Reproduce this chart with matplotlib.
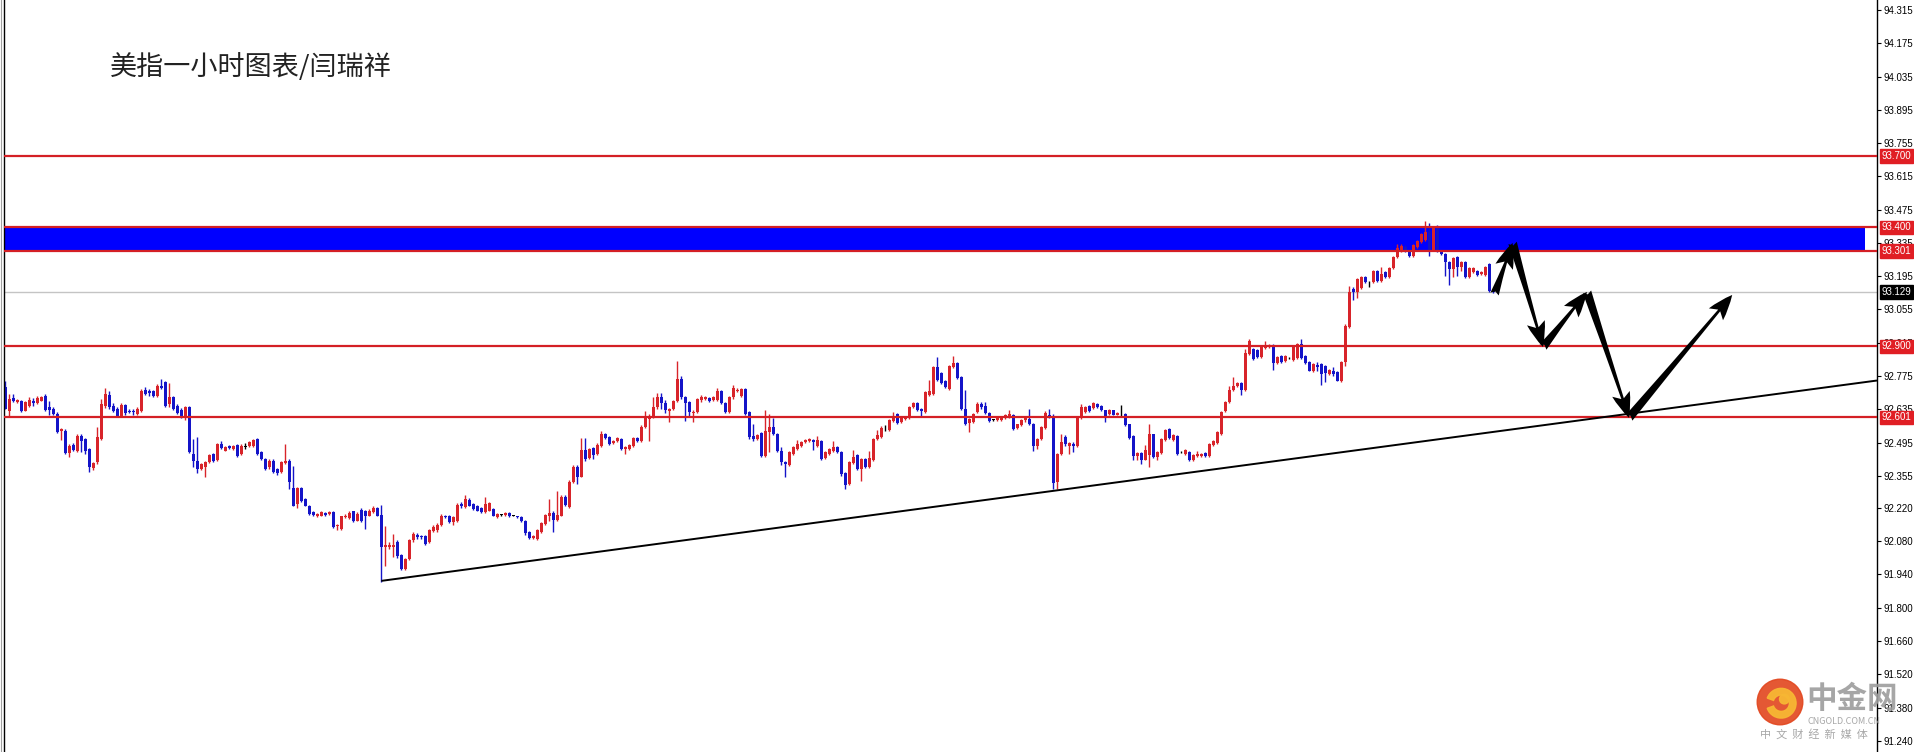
import numpy as np
import matplotlib
matplotlib.use("Agg")
import matplotlib.pyplot as plt
from matplotlib.patches import FancyArrowPatch, Circle, Wedge

plt.rcParams['font.family'] = ['Noto Sans CJK SC', 'DejaVu Sans']

# hourly candles, oldest first
opens = [
    92.727, 92.629, 92.682, 92.664, 92.671, 92.629, 92.650, 92.671, 92.660, 92.671,
    92.692, 92.643, 92.636, 92.615, 92.545, 92.545, 92.450, 92.486, 92.461, 92.524,
    92.510, 92.468, 92.388, 92.412, 92.510, 92.650, 92.696, 92.650, 92.636, 92.608,
    92.653, 92.629, 92.626, 92.615, 92.626, 92.716, 92.710, 92.710, 92.692, 92.734,
    92.748, 92.657, 92.685, 92.650, 92.632, 92.601, 92.646, 92.447, 92.419, 92.384,
    92.394, 92.412, 92.447, 92.422, 92.489, 92.461, 92.482, 92.468, 92.486, 92.447,
    92.478, 92.482,
    92.482, 92.510, 92.454, 92.426, 92.391, 92.419, 92.384, 92.370,
    92.408, 92.419, 92.304, 92.237, 92.304, 92.257, 92.230, 92.202, 92.188, 92.188,
    92.198, 92.195, 92.201, 92.142, 92.132, 92.181, 92.178, 92.205, 92.167, 92.212,
    92.206, 92.188, 92.202, 92.220, 92.192, 92.055, 92.055, 92.055, 92.076, 92.020,
    91.964, 92.006, 92.083, 92.108, 92.100, 92.100, 92.076, 92.122, 92.125, 92.146,
    92.188, 92.188, 92.160, 92.167, 92.237, 92.223, 92.254, 92.237, 92.230, 92.220,
    92.202, 92.209, 92.216, 92.181,
    92.192, 92.192, 92.199, 92.188, 92.185, 92.181,
    92.167, 92.118, 92.094, 92.090, 92.118, 92.153, 92.185, 92.199, 92.170, 92.188,
    92.268, 92.223, 92.328, 92.394, 92.352, 92.464, 92.430, 92.472, 92.447, 92.482,
    92.531, 92.517, 92.492, 92.500, 92.510, 92.468, 92.468, 92.482, 92.514, 92.503,
    92.559, 92.594, 92.601, 92.643, 92.688, 92.661, 92.629, 92.636, 92.668, 92.762,
    92.685, 92.664, 92.619, 92.622, 92.674, 92.678, 92.682, 92.674, 92.674, 92.713,
    92.661, 92.625, 92.685, 92.710, 92.692, 92.720, 92.622,
    92.524, 92.510, 92.534,
    92.440, 92.538, 92.562, 92.531, 92.461, 92.412, 92.402, 92.447, 92.468, 92.482,
    92.496, 92.500, 92.506, 92.482, 92.503, 92.430, 92.447, 92.461, 92.475, 92.454,
    92.366, 92.321, 92.408, 92.444, 92.384, 92.426, 92.391, 92.422, 92.510, 92.517,
    92.556, 92.548, 92.587, 92.615, 92.580, 92.594, 92.598, 92.643, 92.660, 92.636,
    92.622, 92.696, 92.699, 92.811, 92.786, 92.755, 92.720, 92.811, 92.828, 92.769,
    92.636, 92.576, 92.580, 92.622, 92.657, 92.650, 92.618, 92.591, 92.591,
    92.591,
    92.599, 92.602, 92.613, 92.557, 92.567, 92.588, 92.595, 92.574, 92.479, 92.511,
    92.557, 92.613, 92.602, 92.329, 92.448, 92.518, 92.479, 92.490, 92.479, 92.599,
    92.623, 92.647, 92.641, 92.658, 92.647, 92.630, 92.616, 92.630, 92.613, 92.619,
    92.616, 92.571, 92.521, 92.437, 92.451, 92.423, 92.441, 92.529, 92.434, 92.451,
    92.507, 92.553, 92.507, 92.521, 92.455, 92.448, 92.455, 92.423, 92.437, 92.437,
    92.451, 92.437, 92.483, 92.493, 92.532, 92.627, 92.665, 92.714, 92.731, 92.745,
    92.717, 92.868,
    92.889, 92.885, 92.854, 92.893, 92.896, 92.907, 92.829, 92.858,
    92.837, 92.850, 92.843, 92.851, 92.910, 92.861, 92.833, 92.795, 92.823, 92.826,
    92.819, 92.784, 92.794, 92.791, 92.753, 92.833, 92.980, 93.141, 93.127, 93.145,
    93.190, 93.169, 93.169, 93.218, 93.176, 93.211, 93.193, 93.229, 93.274, 93.299,
    93.319, 93.299, 93.281, 93.319, 93.337, 93.347, 93.383, 93.305, 93.403, 93.302,
    93.288, 93.253, 93.225, 93.274, 93.235, 93.253, 93.190, 93.211, 93.215, 93.204,
    93.201, 93.246, 93.134,
]
highs = [
    92.755, 92.699, 92.699, 92.680, 92.676, 92.668, 92.685, 92.682, 92.690, 92.692,
    92.699, 92.668, 92.643, 92.622, 92.556, 92.552, 92.489, 92.492, 92.530, 92.530,
    92.515, 92.472, 92.412, 92.562, 92.678, 92.724, 92.710, 92.660, 92.646, 92.660,
    92.657, 92.636, 92.636, 92.643, 92.720, 92.727, 92.720, 92.716, 92.741, 92.762,
    92.755, 92.744, 92.692, 92.657, 92.640, 92.650, 92.650, 92.510, 92.517, 92.410,
    92.416, 92.448, 92.452, 92.494, 92.500, 92.482, 92.486, 92.486, 92.490, 92.489,
    92.492, 92.503,
    92.512, 92.515, 92.458, 92.430, 92.424, 92.426, 92.388, 92.416,
    92.489, 92.424, 92.398, 92.310, 92.310, 92.262, 92.234, 92.206, 92.199, 92.206,
    92.202, 92.205, 92.205, 92.153, 92.188, 92.195, 92.205, 92.209, 92.202, 92.220,
    92.212, 92.214, 92.227, 92.224, 92.234, 92.142, 92.076, 92.111, 92.083, 92.024,
    92.010, 92.090, 92.118, 92.114, 92.108, 92.104, 92.130, 92.146, 92.156, 92.195,
    92.192, 92.192, 92.185, 92.240, 92.244, 92.276, 92.262, 92.241, 92.234, 92.224,
    92.265, 92.246, 92.220, 92.199,
    92.196, 92.203, 92.203, 92.192, 92.188, 92.185,
    92.170, 92.122, 92.104, 92.130, 92.162, 92.196, 92.258, 92.205, 92.293, 92.275,
    92.275, 92.338, 92.400, 92.400, 92.514, 92.514, 92.474, 92.478, 92.492, 92.545,
    92.536, 92.521, 92.507, 92.518, 92.514, 92.482, 92.490, 92.518, 92.518, 92.568,
    92.629, 92.615, 92.685, 92.702, 92.702, 92.674, 92.640, 92.676, 92.839, 92.776,
    92.690, 92.668, 92.630, 92.683, 92.696, 92.692, 92.686, 92.690, 92.724, 92.718,
    92.665, 92.690, 92.738, 92.724, 92.725, 92.724, 92.626,
    92.573, 92.532, 92.540,
    92.632, 92.615, 92.598, 92.536, 92.475, 92.416, 92.458, 92.480, 92.506, 92.500,
    92.510, 92.513, 92.510, 92.524, 92.507, 92.458, 92.472, 92.503, 92.479, 92.461,
    92.370, 92.416, 92.464, 92.448, 92.430, 92.430, 92.461, 92.514, 92.548, 92.566,
    92.570, 92.594, 92.625, 92.619, 92.605, 92.608, 92.649, 92.664, 92.664, 92.640,
    92.710, 92.758, 92.816, 92.856, 92.790, 92.759, 92.822, 92.860, 92.832, 92.773,
    92.716, 92.598, 92.619, 92.664, 92.667, 92.664, 92.622, 92.595, 92.601,
    92.606,
    92.617, 92.630, 92.617, 92.575, 92.595, 92.602, 92.637, 92.578, 92.515, 92.564,
    92.627, 92.637, 92.616, 92.452, 92.529, 92.525, 92.497, 92.497, 92.606, 92.658,
    92.648, 92.651, 92.665, 92.662, 92.651, 92.634, 92.637, 92.634, 92.623, 92.651,
    92.620, 92.575, 92.525, 92.455, 92.455, 92.483, 92.571, 92.533, 92.459, 92.515,
    92.553, 92.557, 92.529, 92.525, 92.459, 92.466, 92.459, 92.445, 92.459, 92.449,
    92.455, 92.491, 92.505, 92.543, 92.627, 92.669, 92.731, 92.770, 92.749, 92.749,
    92.889, 92.930,
    92.893, 92.889, 92.900, 92.924, 92.911, 92.911, 92.858, 92.862,
    92.862, 92.854, 92.907, 92.914, 92.931, 92.865, 92.837, 92.830, 92.833, 92.830,
    92.823, 92.805, 92.812, 92.795, 92.837, 92.994, 93.155, 93.148, 93.187, 93.197,
    93.194, 93.176, 93.219, 93.222, 93.232, 93.215, 93.233, 93.278, 93.330, 93.330,
    93.325, 93.303, 93.331, 93.348, 93.376, 93.428, 93.420, 93.407, 93.410, 93.306,
    93.292, 93.257, 93.275, 93.278, 93.257, 93.257, 93.233, 93.233, 93.219, 93.215,
    93.239, 93.250, 93.138,
]
lows = [
    92.636, 92.608, 92.664, 92.660, 92.622, 92.626, 92.646, 92.650, 92.657, 92.668,
    92.629, 92.612, 92.610, 92.534, 92.506, 92.447, 92.433, 92.458, 92.454, 92.454,
    92.447, 92.370, 92.380, 92.405, 92.505, 92.640, 92.636, 92.622, 92.601, 92.604,
    92.612, 92.619, 92.612, 92.610, 92.622, 92.695, 92.692, 92.688, 92.688, 92.720,
    92.646, 92.643, 92.632, 92.615, 92.598, 92.590, 92.450, 92.391, 92.366, 92.380,
    92.349, 92.408, 92.412, 92.418, 92.468, 92.458, 92.468, 92.464, 92.436, 92.444,
    92.468, 92.478,
    92.478, 92.442, 92.420, 92.380, 92.384, 92.366, 92.360, 92.366,
    92.405, 92.300, 92.226, 92.220, 92.246, 92.226, 92.190, 92.188, 92.181, 92.184,
    92.188, 92.192, 92.135, 92.125, 92.125, 92.178, 92.174, 92.160, 92.164, 92.160,
    92.132, 92.184, 92.198, 92.184, 91.908, 91.974, 92.048, 92.013, 92.010, 91.958,
    91.957, 92.000, 92.078, 92.090, 92.090, 92.062, 92.072, 92.118, 92.120, 92.142,
    92.176, 92.156, 92.150, 92.162, 92.220, 92.218, 92.226, 92.212, 92.205, 92.198,
    92.198, 92.205, 92.184, 92.178,
    92.188, 92.188, 92.181, 92.185, 92.178, 92.160,
    92.108, 92.088, 92.090, 92.086, 92.114, 92.148, 92.167, 92.118, 92.167, 92.184,
    92.230, 92.218, 92.324, 92.321, 92.348, 92.419, 92.426, 92.426, 92.442, 92.478,
    92.510, 92.485, 92.489, 92.496, 92.464, 92.447, 92.462, 92.478, 92.496, 92.498,
    92.555, 92.503, 92.597, 92.638, 92.636, 92.618, 92.580, 92.632, 92.664, 92.680,
    92.587, 92.601, 92.580, 92.618, 92.664, 92.674, 92.667, 92.670, 92.670, 92.657,
    92.620, 92.620, 92.680, 92.706, 92.688, 92.610, 92.510,
    92.503, 92.506, 92.436,
    92.433, 92.454, 92.527, 92.454, 92.402, 92.349, 92.398, 92.443, 92.464, 92.478,
    92.492, 92.496, 92.464, 92.478, 92.422, 92.426, 92.443, 92.457, 92.450, 92.356,
    92.300, 92.316, 92.404, 92.380, 92.332, 92.390, 92.387, 92.418, 92.506, 92.513,
    92.542, 92.544, 92.583, 92.572, 92.576, 92.590, 92.594, 92.639, 92.628, 92.608,
    92.618, 92.692, 92.695, 92.754, 92.740, 92.723, 92.716, 92.807, 92.762, 92.632,
    92.569, 92.538, 92.576, 92.618, 92.636, 92.614, 92.580, 92.587, 92.587,
    92.587,
    92.595, 92.598, 92.549, 92.553, 92.563, 92.581, 92.570, 92.459, 92.469, 92.507,
    92.553, 92.598, 92.301, 92.301, 92.444, 92.479, 92.445, 92.455, 92.475, 92.595,
    92.619, 92.623, 92.637, 92.640, 92.626, 92.581, 92.612, 92.609, 92.609, 92.602,
    92.563, 92.511, 92.420, 92.420, 92.403, 92.420, 92.392, 92.430, 92.420, 92.447,
    92.503, 92.511, 92.503, 92.444, 92.451, 92.444, 92.419, 92.419, 92.433, 92.433,
    92.433, 92.433, 92.479, 92.489, 92.528, 92.623, 92.661, 92.710, 92.727, 92.693,
    92.713, 92.864,
    92.843, 92.850, 92.850, 92.889, 92.892, 92.801, 92.825, 92.829,
    92.833, 92.846, 92.839, 92.847, 92.847, 92.825, 92.794, 92.791, 92.795, 92.739,
    92.749, 92.780, 92.777, 92.752, 92.749, 92.819, 92.976, 93.095, 93.103, 93.141,
    93.165, 93.151, 93.165, 93.172, 93.172, 93.189, 93.189, 93.225, 93.270, 93.295,
    93.295, 93.277, 93.277, 93.315, 93.333, 93.343, 93.281, 93.299, 93.298, 93.284,
    93.197, 93.159, 93.190, 93.197, 93.218, 93.186, 93.186, 93.207, 93.197, 93.200,
    93.197, 93.130, 93.123,
]
closes = [
    92.636, 92.678, 92.668, 92.674, 92.626, 92.664, 92.674, 92.660, 92.682, 92.685,
    92.632, 92.632, 92.615, 92.538, 92.552, 92.450, 92.482, 92.464, 92.524, 92.503,
    92.458, 92.391, 92.408, 92.517, 92.657, 92.699, 92.643, 92.629, 92.608, 92.654,
    92.619, 92.622, 92.622, 92.636, 92.713, 92.699, 92.703, 92.692, 92.734, 92.724,
    92.650, 92.685, 92.636, 92.619, 92.604, 92.646, 92.454, 92.419, 92.384, 92.405,
    92.412, 92.444, 92.419, 92.489, 92.472, 92.478, 92.472, 92.482, 92.440, 92.482,
    92.478, 92.496,
    92.506, 92.447, 92.426, 92.384, 92.419, 92.370, 92.366, 92.412,
    92.419, 92.328, 92.230, 92.304, 92.251, 92.230, 92.195, 92.192, 92.195, 92.202,
    92.192, 92.201, 92.139, 92.146, 92.184, 92.188, 92.199, 92.167, 92.195, 92.164,
    92.188, 92.209, 92.220, 92.188, 92.055, 92.062, 92.066, 92.066, 92.016, 91.964,
    92.006, 92.086, 92.111, 92.097, 92.097, 92.069, 92.125, 92.139, 92.150, 92.188,
    92.181, 92.160, 92.181, 92.234, 92.226, 92.258, 92.230, 92.216, 92.209, 92.202,
    92.237, 92.240, 92.188, 92.195,
    92.192, 92.199, 92.185, 92.188, 92.181, 92.164,
    92.114, 92.094, 92.100, 92.125, 92.156, 92.191, 92.199, 92.170, 92.191, 92.268,
    92.234, 92.331, 92.394, 92.352, 92.464, 92.426, 92.468, 92.444, 92.486, 92.531,
    92.514, 92.489, 92.503, 92.514, 92.468, 92.478, 92.486, 92.514, 92.500, 92.562,
    92.604, 92.601, 92.643, 92.688, 92.661, 92.632, 92.636, 92.671, 92.762, 92.685,
    92.661, 92.622, 92.625, 92.678, 92.685, 92.688, 92.671, 92.685, 92.713, 92.661,
    92.625, 92.685, 92.724, 92.717, 92.720, 92.615, 92.517,
    92.510, 92.528, 92.440,
    92.542, 92.562, 92.531, 92.458, 92.412, 92.405, 92.454, 92.475, 92.489, 92.496,
    92.506, 92.509, 92.496, 92.506, 92.426, 92.454, 92.468, 92.478, 92.454, 92.363,
    92.318, 92.412, 92.436, 92.384, 92.426, 92.394, 92.430, 92.510, 92.528, 92.556,
    92.556, 92.590, 92.608, 92.576, 92.601, 92.604, 92.646, 92.660, 92.632, 92.626,
    92.706, 92.713, 92.811, 92.758, 92.744, 92.727, 92.818, 92.828, 92.766, 92.636,
    92.573, 92.594, 92.615, 92.657, 92.643, 92.618, 92.584, 92.591, 92.597,
    92.602,
    92.613, 92.616, 92.553, 92.571, 92.591, 92.599, 92.574, 92.479, 92.511, 92.560,
    92.619, 92.602, 92.325, 92.448, 92.497, 92.487, 92.493, 92.479, 92.602, 92.644,
    92.644, 92.627, 92.661, 92.644, 92.630, 92.605, 92.633, 92.613, 92.619, 92.619,
    92.567, 92.515, 92.437, 92.451, 92.423, 92.465, 92.532, 92.434, 92.455, 92.511,
    92.549, 92.515, 92.525, 92.448, 92.455, 92.462, 92.423, 92.441, 92.445, 92.445,
    92.437, 92.487, 92.501, 92.539, 92.623, 92.665, 92.714, 92.735, 92.745, 92.714,
    92.871, 92.924,
    92.847, 92.854, 92.896, 92.907, 92.907, 92.829, 92.854, 92.833,
    92.858, 92.850, 92.903, 92.910, 92.851, 92.829, 92.798, 92.826, 92.812, 92.784,
    92.787, 92.801, 92.784, 92.756, 92.833, 92.987, 93.127, 93.127, 93.183, 93.193,
    93.169, 93.169, 93.215, 93.176, 93.204, 93.193, 93.229, 93.274, 93.313, 93.323,
    93.299, 93.281, 93.327, 93.344, 93.372, 93.379, 93.305, 93.403, 93.302, 93.288,
    93.253, 93.225, 93.271, 93.235, 93.253, 93.190, 93.229, 93.229, 93.201, 93.211,
    93.235, 93.134, 93.129,
]

# levels drawn on the chart
red_levels = [93.700, 93.400, 93.301, 92.900, 92.601]
zone = (93.301, 93.400)
last_price = 93.129
trend_start = (94, 91.913)
trend_end = (467.9, 92.756)
# projected path: (bar, price) turning points
path = [(372.3, 93.12), (376.8, 93.335), (384.4, 92.897),
        (395.4, 93.129), (405.9, 92.599), (431.7, 93.116)]

yticks = [94.315, 94.175, 94.035, 93.895, 93.755, 93.615, 93.475, 93.335,
          93.195, 93.055, 92.915, 92.775, 92.635, 92.495, 92.355, 92.220,
          92.080, 91.940, 91.800, 91.660, 91.520, 91.380, 91.240]

title = "美指一小时图表/闫瑞祥"

RED = '#d8242a'
BLUE = '#1414c8'
W, H = 1914, 752

o = np.array(opens); h = np.array(highs); l = np.array(lows); c = np.array(closes)
x = np.arange(len(o))
col = np.where(c > o, RED, np.where(c < o, BLUE, 'black'))

fig = plt.figure(figsize=(W / 100, H / 100), dpi=100)
ax = fig.add_axes([4 / W, 0, 1873 / W, 1])
ax.set_xlim(-0.325, 467.9)
ax.set_ylim(91.193, 94.357)

# zone behind everything
ax.axhspan(zone[0], zone[1], xmin=0, xmax=0.9936, color='#0000ff', lw=0, zorder=1)
ax.axhline(last_price, color='#c4c4c4', lw=1, zorder=1.5)

ax.vlines(x, l, h, colors=col, lw=1.0, zorder=2)
body = np.maximum(np.abs(c - o), 0.0022)
ax.bar(x, body, bottom=np.minimum(o, c), width=0.76, color=col, lw=0, zorder=2.5)

for lv in red_levels:
    ax.axhline(lv, color='#d41f25', lw=1.6, zorder=3)

ax.plot([trend_start[0], trend_end[0]], [trend_start[1], trend_end[1]],
        color='black', lw=1.4, zorder=3.5, solid_capstyle='butt')

for a, b in zip(path[:-1], path[1:]):
    arr = FancyArrowPatch(a, b, arrowstyle='fancy,head_length=1.3,head_width=0.95,tail_width=0.45',
                          mutation_scale=14, color='black', lw=0, shrinkA=0, shrinkB=0, zorder=4)
    ax.add_patch(arr)

# axes look
for s in ['top', 'bottom']:
    ax.spines[s].set_visible(False)
ax.spines['left'].set_linewidth(1)
ax.spines['right'].set_linewidth(1)
ax.set_xticks([])
ax.yaxis.tick_right()
ax.set_yticks(yticks)
ax.set_yticklabels([f"{v:.3f}" for v in yticks])
ax.tick_params(axis='y', direction='out', length=3, width=0.8, pad=2,
               labelsize=7, labelfontfamily='Liberation Sans')

# price tags on the scale
for lv in red_levels + [last_price]:
    fc = 'black' if lv == last_price else '#e01e24'
    ax.annotate(f"{lv:.3f}", xy=(1, lv), xycoords=('axes fraction', 'data'),
                xytext=(3.2, 0), textcoords='offset points', va='center', ha='left',
                fontsize=7, color='white', family='Liberation Sans', zorder=6,
                bbox=dict(boxstyle='square,pad=0.18', fc=fc, ec=fc), annotation_clip=False)

fig.lines.append(plt.Line2D([1 / W, 1 / W], [0, 1], transform=fig.transFigure,
                            color='#a0a0a0', lw=0.8))

fig.text(110 / W, 1 - 67 / H, title, fontsize=19.5, color='#222222', va='center', ha='left')

# watermark
lg = fig.add_axes([1756 / W, 1 - 726 / H, 48 / W, 48 / H])
lg.set_xlim(-1, 1); lg.set_ylim(-1, 1); lg.axis('off')
lg.add_patch(Circle((0, 0), 0.95, color='#e2461e', alpha=0.9))
lg.add_patch(Wedge((0.05, -0.05), 0.62, 200, 520, width=0.28, color='#f7b733', alpha=0.95))
lg.add_patch(Circle((0.18, 0.12), 0.2, color='#f7b733', alpha=0.95))
fig.text(1806 / W, 1 - 699 / H, "中金网", fontsize=22, color='#9c9c9c', va='center',
         ha='left', weight='bold', alpha=0.9)
fig.text(1808 / W, 1 - 721 / H, "CNGOLD.COM.CN", fontsize=6.5, color='#a8a8a8',
         va='center', ha='left')
fig.text(1760 / W, 1 - 734 / H, "中  文  财  经  新  媒  体", fontsize=8, color='#a8a8a8',
         va='center', ha='left')

fig.savefig('out.png', dpi=100)
